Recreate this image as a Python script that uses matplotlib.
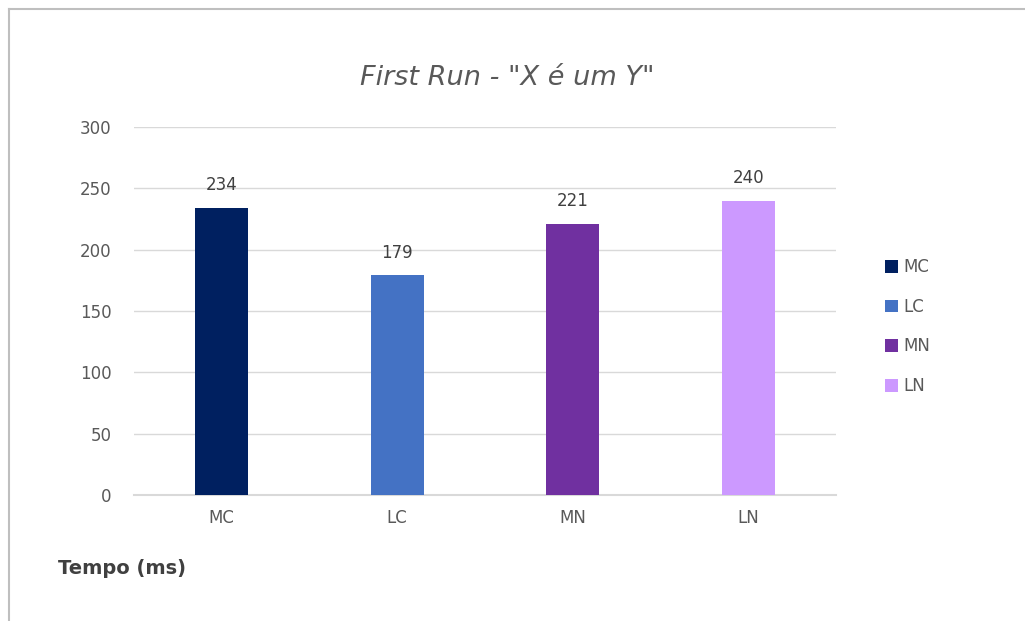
import matplotlib
matplotlib.use("Agg")
import matplotlib.pyplot as plt
from matplotlib.lines import Line2D
from matplotlib.patches import Patch

categories = ["MC", "LC", "MN", "LN"]
values = [234, 179, 221, 240]
colors = ["#002060", "#4472C4", "#7030A0", "#CC99FF"]
yticks = [0, 50, 100, 150, 200, 250, 300]

W, H = 1025, 621
fig = plt.figure(figsize=(W / 100, H / 100), dpi=100)
fig.patch.set_facecolor("white")

# chart area frame
fig.add_artist(Line2D([9 / W, 1.0], [1 - 9 / H, 1 - 9 / H], color="#BFBFBF", lw=1.5))
fig.add_artist(Line2D([9 / W, 9 / W], [0.0, 1 - 9 / H], color="#BFBFBF", lw=1.5))

ax = fig.add_axes([134 / W, 1 - 495 / H, (836 - 134) / W, (495 - 127) / H])
x = range(len(categories))
bars = ax.bar(x, values, width=0.30, color=colors, zorder=3)
ax.set_xlim(-0.5, len(categories) - 0.5)
ax.set_ylim(0, 300)
ax.set_yticks(yticks)
ax.set_xticks(list(x))
ax.set_xticklabels(categories)
ax.grid(axis="y", color="#D9D9D9", lw=1, zorder=0)
ax.axhline(0, color="#D9D9D9", lw=1.5, zorder=2, clip_on=False)
for s in ax.spines.values():
    s.set_visible(False)
ax.tick_params(axis="both", length=0, colors="#595959", labelsize=12)
ax.tick_params(axis="y", pad=16)
ax.tick_params(axis="x", pad=10)

for b, v in zip(bars, values):
    ax.annotate(str(v), (b.get_x() + b.get_width() / 2, v), xytext=(0, 10),
                textcoords="offset points", ha="center", va="bottom",
                fontsize=12, color="#404040")

fig.text(507 / W, 1 - 78 / H, 'First Run - "X é um Y"', ha="center", va="center",
         fontsize=19.5, style="italic", color="#595959")

fig.text(58 / W, 1 - 568 / H, "Tempo (ms)", ha="left", va="center",
         fontsize=14, fontweight="bold", color="#404040")

handles = [Patch(facecolor=c, label=l) for c, l in zip(colors, categories)]
fig.legend(handles=handles, loc="upper left", bbox_to_anchor=(870 / W, 1 - 243 / H),
           frameon=False, fontsize=12, handlelength=0.8, handleheight=0.8,
           handletextpad=0.3, labelspacing=1.3, labelcolor="#595959")

fig.savefig("out.png", dpi=100)
